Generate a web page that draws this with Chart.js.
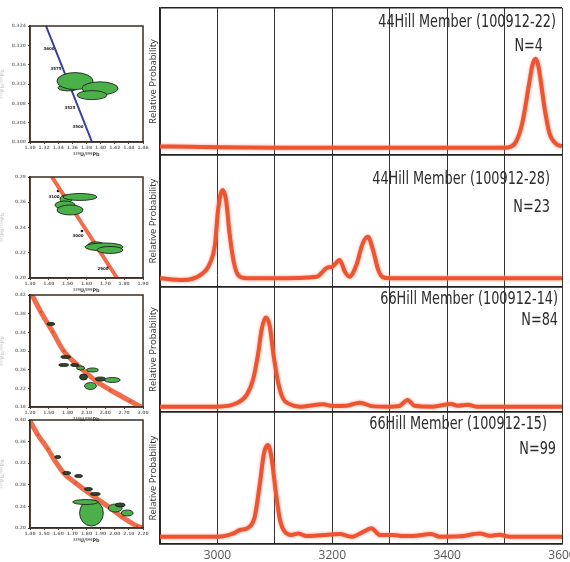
<!DOCTYPE html>
<html>
<head>
<meta charset="utf-8">
<script src="https://cdn.jsdelivr.net/npm/chart.js@4.4.1/dist/chart.umd.min.js"></script>
<style>
html, body { margin: 0; padding: 0; background: #fff; overflow: hidden; }
#wrap { position: relative; width: 570px; height: 562px; overflow: hidden; }
#wrap canvas { position: absolute; left: 0; }
</style>
</head>
<body>
<div id="wrap">
  <canvas id="pdf" width="570" height="562" style="top:0"></canvas>
  <canvas id="tw1" width="150" height="140" style="top:18px"></canvas>
  <canvas id="tw2" width="150" height="125" style="top:169px"></canvas>
  <canvas id="tw3" width="150" height="136" style="top:287px"></canvas>
  <canvas id="tw4" width="150" height="132" style="top:412px"></canvas>
</div>
<script>
// probability density curves, one per sample (age in Ma, relative probability)
const ages1 = [2900, 2950, 3000, 3100, 3200, 3300, 3400, 3500, 3510, 3520, 3531, 3543, 3549, 3554, 3558, 3562, 3570, 3578, 3590, 3600];
const prob1 = [0.058, 0.056, 0.053, 0.05, 0.05, 0.05, 0.05, 0.05, 0.055, 0.09, 0.22, 0.49, 0.62, 0.655, 0.62, 0.53, 0.31, 0.15, 0.075, 0.06];

const ages2 = [2900, 2940, 2970, 2987, 2996, 3001, 3009, 3015, 3021, 3028, 3036, 3051, 3100, 3173, 3190, 3200, 3213, 3222, 3230, 3242, 3253, 3262, 3271, 3280, 3288, 3300, 3400, 3500, 3600];
const prob2 = [0.066, 0.053, 0.09, 0.18, 0.33, 0.58, 0.735, 0.66, 0.41, 0.2, 0.09, 0.066, 0.066, 0.078, 0.144, 0.154, 0.205, 0.116, 0.078, 0.167, 0.33, 0.38, 0.28, 0.13, 0.075, 0.066, 0.066, 0.066, 0.066];

const ages3 = [2900, 2999, 3033, 3051, 3062, 3071, 3077, 3084, 3091, 3098, 3106, 3114, 3125, 3143, 3184, 3200, 3225, 3248, 3271, 3300, 3317, 3331, 3343, 3375, 3407, 3418, 3436, 3451, 3500, 3600];
const prob3 = [0.043, 0.043, 0.07, 0.137, 0.258, 0.47, 0.66, 0.756, 0.69, 0.446, 0.23, 0.11, 0.065, 0.043, 0.062, 0.048, 0.05, 0.075, 0.045, 0.043, 0.048, 0.097, 0.05, 0.043, 0.065, 0.05, 0.058, 0.043, 0.043, 0.043];

const ages4 = [2900, 3000, 3028, 3039, 3054, 3065, 3074, 3081, 3088, 3094, 3102, 3109, 3117, 3129, 3141, 3155, 3184, 3213, 3233, 3253, 3268, 3283, 3306, 3323, 3340, 3372, 3387, 3422, 3457, 3474, 3491, 3509, 3600];
const prob4 = [0.055, 0.055, 0.08, 0.106, 0.124, 0.207, 0.46, 0.687, 0.75, 0.66, 0.38, 0.18, 0.093, 0.068, 0.08, 0.06, 0.068, 0.075, 0.055, 0.09, 0.12, 0.068, 0.068, 0.06, 0.06, 0.075, 0.055, 0.058, 0.08, 0.062, 0.07, 0.055, 0.055];

const sampleNames = ['44Hill Member (100912-22)', '44Hill Member (100912-28)', '66Hill Member (100912-14)', '66Hill Member (100912-15)'];
const grainCounts = ['N=4', 'N=23', 'N=84', 'N=99'];

const ageGrid = [2900, 3000, 3100, 3200, 3300, 3400, 3500, 3600];
const ageLabels = [3000, 3200, 3400, 3600];

// panel heights and text offsets (from the right edge / panel top)
const panelWeights = [147, 132, 125, 132];
const textSpots = [[6, 15, 19, 39], [12, 25, 12, 53], [4, 13, 4, 34], [15, 13, 6, 38]];

const curveColor = 'rgb(238, 84, 50)';
const series = [[ages1, prob1], [ages2, prob2], [ages3, prob3], [ages4, prob4]];

function panelAxis(i) {
  return {
    type: 'linear',
    position: 'left',
    stack: 'pdf',
    stackWeight: panelWeights[i],
    min: 0,
    max: 1,
    afterBuildTicks: s => { s.ticks = [{ value: 0 }, { value: 1 }]; },
    ticks: { display: false },
    grid: { color: '#222', lineWidth: 1.5, drawTicks: false },
    border: { color: '#222', width: 1.5 },
    title: {
      display: true,
      text: 'Relative Probability',
      color: '#333',
      font: { size: 9.5, family: 'Open Sans' },
      padding: { top: 0, bottom: 0 }
    },
    afterFit: s => { s.width = 12; }
  };
}

const glow = {
  id: 'glow',
  beforeDatasetsDraw(chart) {
    const ctx = chart.ctx;
    ctx.save();
    ctx.shadowColor = 'rgba(245, 130, 100, 0.8)';
    ctx.shadowBlur = 3;
  },
  afterDatasetsDraw(chart) {
    chart.ctx.restore();
  }
};

// sample name and grain count, squeezed a little to a condensed look
const panelText = {
  id: 'panelText',
  afterDraw(chart) {
    const { ctx, chartArea } = chart;
    const squeeze = 0.84;
    ctx.save();
    ctx.fillStyle = '#2b2b2b';
    ctx.textAlign = 'right';
    ctx.textBaseline = 'middle';
    ctx.font = '17px "Liberation Sans Narrow", "DejaVu Sans Condensed", sans-serif';
    ctx.scale(squeeze, 1);
    sampleNames.forEach((name, i) => {
      const s = chart.scales['y' + (i + 1)];
      const p = textSpots[i];
      ctx.fillText(name, (chartArea.right - p[0]) / squeeze, s.top + p[1]);
      ctx.fillText(grainCounts[i], (chartArea.right - p[2]) / squeeze, s.top + p[3]);
    });
    ctx.restore();
  }
};

const pdfScales = {
  x: {
    type: 'linear',
    min: 2900,
    max: 3600,
    afterBuildTicks: s => { s.ticks = ageGrid.map(v => ({ value: v })); },
    ticks: {
      autoSkip: false,
      maxRotation: 0,
      padding: 4,
      color: '#555',
      font: { size: 12, family: 'Open Sans' },
      callback: v => ageLabels.includes(v) ? String(v) : ''
    },
    grid: { color: '#333', lineWidth: 1, drawTicks: false },
    border: { color: '#222', width: 1.5 },
    afterFit: s => { s.height = 18; s.paddingLeft = 0; s.paddingRight = 0; }
  }
};
// stacked left axes are laid out bottom-up, so the lowest panel goes in first
for (let i = 3; i >= 0; i--) pdfScales['y' + (i + 1)] = panelAxis(i);

new Chart(document.getElementById('pdf'), {
  type: 'line',
  data: {
    datasets: series.map(([a, p], i) => ({
      data: a.map((x, j) => ({ x: x, y: p[j] })),
      yAxisID: 'y' + (i + 1),
      borderColor: curveColor,
      borderWidth: 4,
      pointRadius: 0,
      cubicInterpolationMode: 'monotone',
      fill: false
    }))
  },
  options: {
    responsive: false,
    animation: false,
    layout: { padding: { left: 148, top: 8, right: 8, bottom: 0 } },
    scales: pdfScales,
    plugins: { legend: { display: false }, tooltip: { enabled: false } }
  },
  plugins: [glow, panelText]
});

// Tera-Wasserburg insets: concordia, analyses (cx, cy, rx, ry, dark) and age marks
const tw1X = [1.3227, 1.3553, 1.3878];
const tw1Y = [0.324, 0.312, 0.300];
const tw1Ellipses = [
  [1.3538, 0.3112, 0.0142, 0.00062, 0],
  [1.3637, 0.3126, 0.0255, 0.00176, 0],
  [1.3991, 0.3111, 0.0255, 0.00135, 0],
  [1.3878, 0.3097, 0.0212, 0.00093, 0]
];
const tw1Tags = [[1.3269, 0.3192, '3600'], [1.3368, 0.3151, '3575'], [1.3566, 0.3070, '3525'], [1.3680, 0.3031, '3500']];
const tw1XTicks = [1.30, 1.32, 1.34, 1.36, 1.38, 1.40, 1.42, 1.44, 1.46];
const tw1YTicks = [0.300, 0.304, 0.308, 0.312, 0.316, 0.320, 0.324];

const tw2X = [1.4168, 1.5894, 1.762];
const tw2Y = [0.28, 0.24, 0.20];
const tw2Dots = [[1.4487, 0.2689], [1.5761, 0.2372], [1.7142, 0.2087]];
const tw2Ellipses = [
  [1.4911, 0.2626, 0.0319, 0.00317, 0],
  [1.5655, 0.2642, 0.0903, 0.00277, 0],
  [1.4858, 0.2578, 0.0531, 0.00317, 0],
  [1.5124, 0.2539, 0.069, 0.00396, 0],
  [1.6504, 0.2262, 0.0425, 0.00238, 0],
  [1.6929, 0.2246, 0.1009, 0.00317, 0],
  [1.7248, 0.2222, 0.069, 0.00277, 0]
];
const tw2Tags = [[1.4274, 0.2642, '3100'], [1.5549, 0.2333, '3000'], [1.6876, 0.2071, '2900']];
const tw2XTicks = [1.30, 1.40, 1.50, 1.60, 1.70, 1.80, 1.90];
const tw2YTicks = [0.20, 0.22, 0.24, 0.26, 0.28];

const tw3X = [1.2316, 1.3737, 1.5632, 1.7368, 1.9737, 2.2737, 2.4789, 2.7947, 2.9684];
const tw3Y = [0.42, 0.3836, 0.3407, 0.3000, 0.2679, 0.2336, 0.2164, 0.1929, 0.18];
const tw3Dots = [[1.3737, 0.3836], [1.5632, 0.3407], [1.7368, 0.3000], [1.9737, 0.2679], [2.4789, 0.2164], [2.7947, 0.1929]];
const tw3Ellipses = [
  [1.5316, 0.3579, 0.063, 0.0032, 1],
  [1.7684, 0.2871, 0.079, 0.0032, 1],
  [1.7368, 0.2700, 0.079, 0.0032, 1],
  [1.9105, 0.2700, 0.063, 0.0032, 1],
  [2.0053, 0.2636, 0.063, 0.0043, 0],
  [2.1947, 0.2593, 0.095, 0.0043, 0],
  [2.0526, 0.2443, 0.063, 0.0064, 1],
  [2.3211, 0.2400, 0.079, 0.0043, 1],
  [2.5105, 0.2379, 0.126, 0.0054, 0],
  [2.1632, 0.2250, 0.095, 0.0075, 0]
];
const tw3XTicks = [1.2, 1.5, 1.8, 2.1, 2.4, 2.7, 3.0];
const tw3YTicks = [0.18, 0.22, 0.26, 0.30, 0.34, 0.38, 0.42];

const tw4X = [1.4, 1.4561, 1.5263, 1.5825, 1.6386, 1.7228, 1.8772, 1.9684, 2.0526, 2.1579, 2.2];
const tw4Y = [0.3981, 0.3722, 0.3463, 0.3222, 0.3019, 0.2833, 0.2537, 0.237, 0.2204, 0.2037, 0.2];
const tw4Dots = [[1.4561, 0.3722], [1.5263, 0.3463], [1.6386, 0.3019], [1.7228, 0.2833], [1.9684, 0.237], [2.0526, 0.2204], [2.1579, 0.2037]];
const tw4Ellipses = [
  [1.5965, 0.3315, 0.021, 0.0028, 1],
  [1.6597, 0.3019, 0.028, 0.0028, 1],
  [1.7438, 0.2963, 0.028, 0.0028, 1],
  [1.8140, 0.2722, 0.028, 0.0028, 1],
  [1.8631, 0.2630, 0.035, 0.0028, 1],
  [1.8351, 0.2278, 0.0842, 0.0241, 0],
  [1.7930, 0.2481, 0.0912, 0.0046, 0],
  [2.0035, 0.2370, 0.0491, 0.0074, 0],
  [2.0877, 0.2278, 0.0421, 0.0056, 0],
  [2.0386, 0.2426, 0.035, 0.0037, 1]
];
const tw4XTicks = [1.4, 1.5, 1.6, 1.7, 1.8, 1.9, 2.0, 2.1, 2.2];
const tw4YTicks = [0.20, 0.24, 0.28, 0.32, 0.36, 0.40];

function makeInset(id, spec) {
  const marks = {
    id: 'marks',
    afterDatasetDraw(chart, args) {
      if (args.index !== 0) return;
      const { ctx, chartArea: a, scales: { x, y } } = chart;
      ctx.save();
      ctx.beginPath();
      ctx.rect(a.left, a.top, a.right - a.left, a.bottom - a.top);
      ctx.clip();
      spec.ellipses.forEach(([cx, cy, rx, ry, dark]) => {
        const px = x.getPixelForValue(cx);
        const py = y.getPixelForValue(cy);
        const prx = Math.abs(x.getPixelForValue(cx + rx) - px);
        const pry = Math.abs(y.getPixelForValue(cy + ry) - py);
        ctx.beginPath();
        ctx.ellipse(px, py, prx, pry, 0, 0, Math.PI * 2);
        ctx.fillStyle = dark ? '#2e4a2b' : '#4cb04a';
        ctx.fill();
        ctx.lineWidth = 0.8;
        ctx.strokeStyle = '#111';
        ctx.stroke();
      });
      ctx.restore();
    },
    afterDraw(chart) {
      const { ctx, chartArea: a, scales: { x, y } } = chart;
      ctx.save();
      ctx.fillStyle = '#222';
      ctx.font = 'bold 4px "DejaVu Sans"';
      ctx.textAlign = 'center';
      ctx.textBaseline = 'middle';
      (spec.tags || []).forEach(([tx, ty, t]) => {
        ctx.fillText(t, x.getPixelForValue(tx), y.getPixelForValue(ty));
      });
      ctx.strokeStyle = '#3a2c22';
      ctx.lineWidth = 1.5;
      ctx.strokeRect(a.left, a.top, a.right - a.left, a.bottom - a.top);
      ctx.restore();
    }
  };

  const datasets = [{
    data: spec.curveX.map((v, j) => ({ x: v, y: spec.curveY[j] })),
    borderColor: spec.lineColor,
    borderWidth: spec.lineWidth,
    pointRadius: 0,
    showLine: true,
    cubicInterpolationMode: 'monotone'
  }];
  if (spec.dots) {
    datasets.push({
      data: spec.dots.map(([dx, dy]) => ({ x: dx, y: dy })),
      showLine: false,
      pointRadius: 1.3,
      pointBackgroundColor: '#111',
      pointBorderWidth: 0
    });
  }

  new Chart(document.getElementById(id), {
    type: 'scatter',
    data: { datasets: datasets },
    options: {
      responsive: false,
      animation: false,
      layout: { padding: { left: 0, top: 8, right: 7, bottom: 0 } },
      scales: {
        x: {
          min: spec.xTicks[0],
          max: spec.xTicks[spec.xTicks.length - 1],
          afterBuildTicks: s => { s.ticks = spec.xTicks.map(v => ({ value: v })); },
          ticks: {
            autoSkip: false, maxRotation: 0, padding: 1, color: '#777',
            font: { size: 4.5, family: 'DejaVu Sans', weight: 'bold' },
            callback: v => v.toFixed(2)
          },
          grid: { drawOnChartArea: false, tickLength: 2, color: '#444' },
          border: { color: '#3a2c22', width: 1.5 },
          title: {
            display: true, text: '²³⁸U/²⁰⁶Pb', color: '#444',
            font: { size: 5, family: 'DejaVu Sans', weight: 'bold' },
            padding: { top: 1, bottom: 0 }
          },
          afterFit: s => { s.height = 16; s.paddingLeft = 0; s.paddingRight = 0; }
        },
        y: {
          min: spec.yTicks[0],
          max: spec.yTicks[spec.yTicks.length - 1],
          afterBuildTicks: s => { s.ticks = spec.yTicks.map(v => ({ value: v })); },
          ticks: {
            autoSkip: false, padding: 2, color: '#888',
            font: { size: 4.5, family: 'DejaVu Sans', weight: 'bold' },
            callback: v => v.toFixed(spec.yDigits)
          },
          grid: { drawOnChartArea: false, tickLength: 2, color: '#444' },
          border: { color: '#3a2c22', width: 1.5 },
          title: {
            display: true, text: '²⁰⁷Pb/²⁰⁶Pb', color: '#d0d0d0',
            font: { size: 5, family: 'DejaVu Sans', weight: 'bold' },
            padding: { top: 0, bottom: 0 }
          },
          afterFit: s => { s.width = 30; }
        }
      },
      plugins: { legend: { display: false }, tooltip: { enabled: false } }
    },
    plugins: [marks]
  });
}

const orangeLine = 'rgba(240, 92, 55, 0.9)';
makeInset('tw1', { curveX: tw1X, curveY: tw1Y, ellipses: tw1Ellipses, tags: tw1Tags, xTicks: tw1XTicks, yTicks: tw1YTicks, yDigits: 3, lineColor: '#3b3fa0', lineWidth: 2 });
makeInset('tw2', { curveX: tw2X, curveY: tw2Y, dots: tw2Dots, ellipses: tw2Ellipses, tags: tw2Tags, xTicks: tw2XTicks, yTicks: tw2YTicks, yDigits: 2, lineColor: orangeLine, lineWidth: 4 });
makeInset('tw3', { curveX: tw3X, curveY: tw3Y, dots: tw3Dots, ellipses: tw3Ellipses, xTicks: tw3XTicks, yTicks: tw3YTicks, yDigits: 2, lineColor: orangeLine, lineWidth: 5 });
makeInset('tw4', { curveX: tw4X, curveY: tw4Y, dots: tw4Dots, ellipses: tw4Ellipses, xTicks: tw4XTicks, yTicks: tw4YTicks, yDigits: 2, lineColor: orangeLine, lineWidth: 5 });
</script>
</body>
</html>
